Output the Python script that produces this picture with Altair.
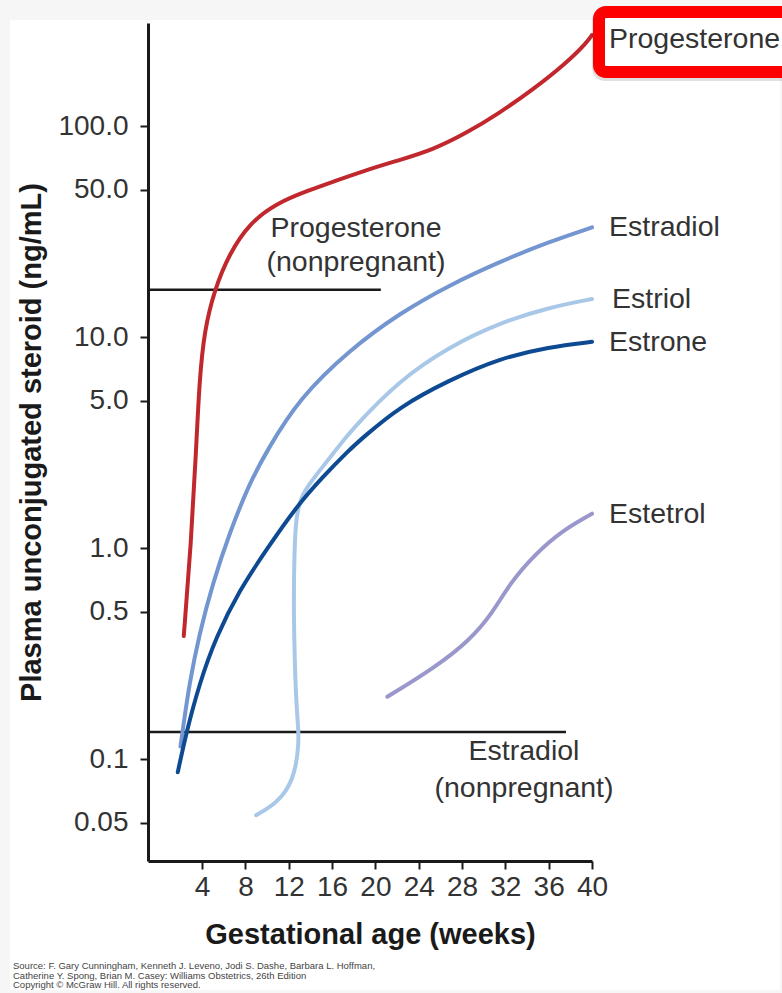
import altair as alt
import pandas as pd

# Plasma unconjugated steroid levels (ng/mL) against gestational age (weeks)
prog_weeks = [2.3, 2.98, 3.44, 3.75, 4.21, 5.13, 6.52, 8.36, 10.83, 13.9, 16.03, 19.16, 22.21, 25.26, 28.4, 31.44, 34.49, 37.63, 39.47, 40.0]
prog_vals = [0.384, 1.06, 2.92, 6.28, 10.8, 16.8, 25.0, 34.7, 43.2, 49.9, 54.5, 62.1, 69.2, 77.3, 92.9, 115.7, 148.6, 199.6, 248.0, 271.0]

e2_weeks = [2.0, 2.21, 2.82, 3.75, 4.98, 6.52, 8.36, 10.02, 12.98, 17.59, 22.21, 26.83, 31.44, 36.06, 40.0]
e2_vals = [0.115, 0.138, 0.229, 0.395, 0.683, 1.18, 2.03, 2.93, 5.15, 8.71, 13.0, 17.7, 22.8, 28.4, 33.2]

e3_weeks = [8.98, 10.83, 12.06, 12.67, 12.91, 12.89, 12.67, 12.52, 12.45, 12.52, 12.67, 13.14, 13.9, 16.37, 17.6, 22.2, 26.8, 31.4, 36.1, 40.0]
e3_vals = [0.0544, 0.0618, 0.0741, 0.0922, 0.119, 0.138, 0.191, 0.33, 0.569, 0.982, 1.41, 1.76, 2.03, 2.93, 3.56, 6.28, 9.02, 11.7, 13.9, 15.2]

e1_weeks = [1.75, 2.52, 3.75, 5.29, 7.44, 9.9, 12.67, 15.13, 17.59, 18.79, 22.21, 26.83, 31.44, 36.06, 40.0]
e1_vals = [0.087, 0.133, 0.229, 0.381, 0.634, 0.98, 1.57, 2.18, 2.93, 3.33, 4.69, 6.28, 7.95, 9.02, 9.53]

e4_weeks = [21.1, 25.6, 28.7, 30.8, 32.4, 34.8, 37.3, 40.0]
e4_vals = [0.198, 0.275, 0.367, 0.492, 0.683, 0.946, 1.22, 1.46]

steroids = ["Progesterone", "Estradiol", "Estriol", "Estrone", "Estetrol"]
steroid_colors = ["#c0282d", "#7396d0", "#a9c8e8", "#0d4a92", "#9a97cc"]

# Nonpregnant reference levels
ref_names = ["Progesterone\n(nonpregnant)", "Estradiol\n(nonpregnant)"]
ref_levels = [16.8, 0.135]
ref_start_weeks = [-1, -1]
ref_end_weeks = [20.5, 37.6]

x_ticks = [4, 8, 12, 16, 20, 24, 28, 32, 36, 40]
y_ticks = [0.05, 0.1, 0.5, 1.0, 5.0, 10.0, 50.0, 100.0]
y_tick_labels = ["0.05", "0.1", "0.5", "1.0", "5.0", "10.0", "50.0", "100.0"]

source_lines = [
    "Source: F. Gary Cunningham, Kenneth J. Leveno, Jodi S. Dashe, Barbara L. Hoffman,",
    "Catherine Y. Spong, Brian M. Casey: Williams Obstetrics, 26th Edition",
    "Copyright \u00a9 McGraw Hill. All rights reserved.",
]

FONT = "Liberation Sans"
TEXT = "#333333"
INK = "#1a1a1a"
LABEL_SIZE = 28.5

series = {
    "Progesterone": (prog_weeks, prog_vals),
    "Estradiol": (e2_weeks, e2_vals),
    "Estriol": (e3_weeks, e3_vals),
    "Estrone": (e1_weeks, e1_vals),
    "Estetrol": (e4_weeks, e4_vals),
}
rows = []
for name, (wk, val) in series.items():
    for i, (w, v) in enumerate(zip(wk, val)):
        rows.append({"steroid": name, "week": w, "conc": v, "idx": i})
curves = pd.DataFrame(rows)
ends = curves.sort_values("idx").groupby("steroid").tail(1).reset_index(drop=True)

refs = pd.DataFrame({"name": ref_names, "conc": ref_levels,
                     "week": ref_start_weeks, "week_end": ref_end_weeks})

label_expr = " : ".join(
    f"datum.value == {v} ? '{t}'" for v, t in zip(y_ticks, y_tick_labels)
) + " : ''"

x_enc = alt.X(
    "week:Q", scale=alt.Scale(domain=[-1, 40], nice=False, zero=False),
    axis=alt.Axis(values=x_ticks, title="Gestational age (weeks)", labelPadding=4,
                  labelOverlap=False, labelFlush=False,
                  titleX=222, titleY=82, titleAlign="center", titleBaseline="alphabetic",
                  zindex=2),
)
y_enc = alt.Y(
    "conc:Q", scale=alt.Scale(type="log", domain=[0.033, 309], nice=False),
    axis=alt.Axis(values=y_ticks, labelExpr=label_expr, title="Plasma unconjugated steroid (ng/mL)",
                  labelPadding=12, labelOverlap=False, labelFlush=False,
                  titleAngle=270, titleX=-108, titleY=419,
                  titleAlign="center", titleBaseline="alphabetic", zindex=2),
)
color_enc = alt.Color("steroid:N", scale=alt.Scale(domain=steroids, range=steroid_colors), legend=None)

one = pd.DataFrame({"k": [0]})

card = alt.Chart(one).mark_rect(fill="white").encode(
    x=alt.value(-138), x2=alt.value(632), y=alt.value(-3), y2=alt.value(967)
)

ref_rules = alt.Chart(refs).mark_rule(color=INK, strokeWidth=2.5).encode(
    x=x_enc, x2="week_end:Q", y=y_enc
)

prog_np_text = alt.Chart(refs.iloc[[0]]).mark_text(
    font=FONT, fontSize=LABEL_SIZE, color=TEXT, align="center", baseline="alphabetic",
    lineBreak="\n", lineHeight=34
).encode(text="name:N", x=alt.value(208), y=alt.value(214))

e2_np_text = alt.Chart(refs.iloc[[1]]).mark_text(
    font=FONT, fontSize=LABEL_SIZE, color=TEXT, align="center", baseline="alphabetic",
    lineBreak="\n", lineHeight=37
).encode(text="name:N", x=alt.value(376), y=alt.value(737))

# Smooth B-spline through the sampled points; estriol bends back near week 13
steroid_curves = alt.Chart(curves).mark_line(
    interpolate="basis", strokeWidth=4, strokeCap="round"
).encode(x=x_enc, y=y_enc, color=color_enc, order="idx:Q", detail="steroid:N")

end_labels = []
for name, dx in [("Estradiol", 17), ("Estriol", 20), ("Estrone", 17), ("Estetrol", 17)]:
    end_labels.append(
        alt.Chart(ends[ends.steroid == name]).mark_text(
            font=FONT, fontSize=LABEL_SIZE, color=TEXT, align="left", baseline="middle", dx=dx
        ).encode(x=x_enc, y=y_enc, text="steroid:N")
    )

# Highlight frame around the progesterone label
shadow = alt.Chart(one).mark_rect(
    fill="transparent", stroke="#000000", strokeWidth=12, strokeOpacity=0.12, cornerRadius=7
).encode(x=alt.value(450), x2=alt.value(660), y=alt.value(-9), y2=alt.value(52))

frame = alt.Chart(one).mark_rect(
    fill="white", stroke="#ff0000", strokeWidth=12, cornerRadius=7
).encode(x=alt.value(451), x2=alt.value(660), y=alt.value(-11), y2=alt.value(49))

prog_label = alt.Chart(ends[ends.steroid == "Progesterone"]).mark_text(
    font=FONT, fontSize=LABEL_SIZE, color=TEXT, align="left", baseline="middle", dx=17, dy=4
).encode(x=x_enc, y=y_enc, text="steroid:N")

src = pd.DataFrame({"line": ["\n".join(source_lines)]})
source = alt.Chart(src).mark_text(
    font=FONT, fontSize=9.5, color="#444444", align="left", baseline="middle",
    lineBreak="\n", lineHeight=9.7
).encode(text="line:N", x=alt.value(-135), y=alt.value(943))

chart = alt.layer(
    card, ref_rules, prog_np_text, e2_np_text, steroid_curves, *end_labels,
    shadow, frame, prog_label, source
).properties(
    width=444, height=838,
    padding={"left": 148, "top": 23, "right": 190, "bottom": 132},
    autosize=alt.AutoSizeParams(type="none"),
    background="#f6f6f6",
).configure_view(stroke=None).configure_axis(
    domainColor=INK, domainWidth=3, tickColor=INK, tickWidth=2, tickSize=8,
    labelFont=FONT, labelFontSize=28, labelColor=TEXT, grid=False,
    titleFont=FONT, titleFontSize=29, titleFontWeight="bold", titleColor=INK,
)

chart.save("out.html", embed_options={"renderer": "svg", "actions": False})
